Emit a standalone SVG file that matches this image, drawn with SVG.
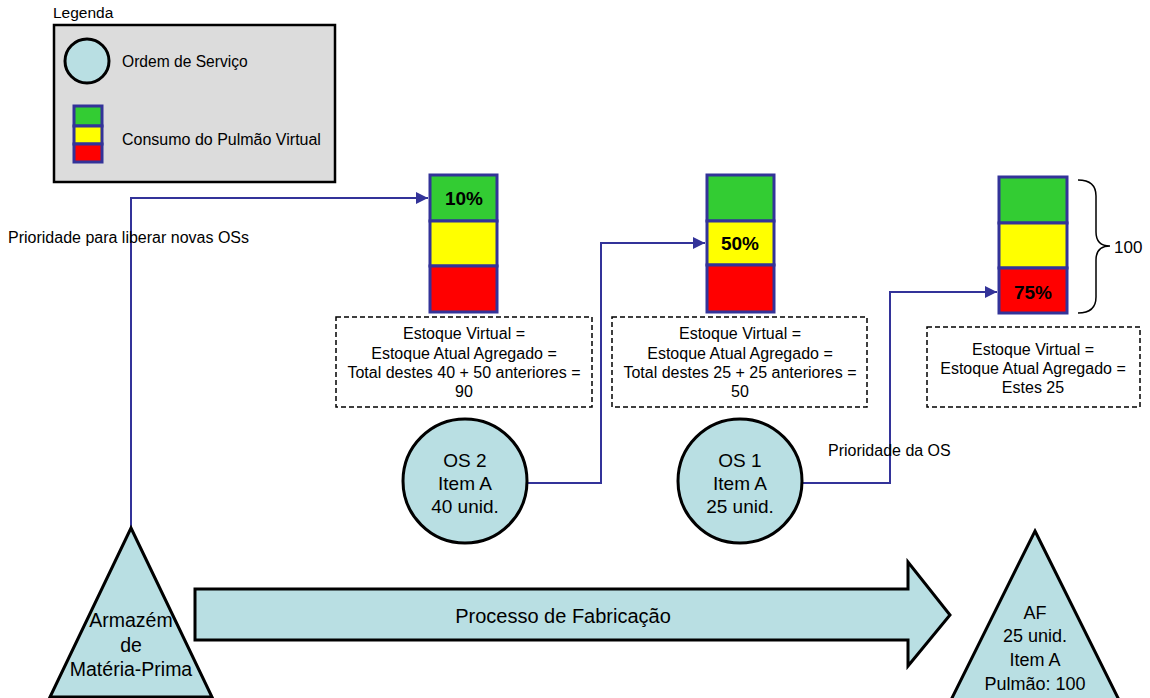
<svg xmlns="http://www.w3.org/2000/svg" width="1150" height="698" viewBox="0 0 1150 698">
<defs>
<style>
text{font-family:"Liberation Sans",Arial,sans-serif;fill:#000}
.s{font-size:16px}
.m{font-size:19px}
.c{text-anchor:middle}
.b{font-weight:bold;font-size:19px;text-anchor:middle}
.g{fill:#33cc33;stroke:#333399;stroke-width:3}
.y{fill:#ffff00;stroke:#333399;stroke-width:3}
.r{fill:#ff0000;stroke:#333399;stroke-width:3}
.os{fill:#b9dfe3;stroke:#000;stroke-width:3}
.dash{fill:#fff;stroke:#000;stroke-width:1.5;stroke-dasharray:5 3}
.con{fill:none;stroke:#333399;stroke-width:2}
</style>
<marker id="ah" viewBox="0 0 10 10" refX="10" refY="5" markerWidth="12" markerHeight="12" markerUnits="userSpaceOnUse" orient="auto">
<path d="M0,0 L10,5 L0,10 z" fill="#333399"/>
</marker>
</defs>
<rect width="1150" height="698" fill="#fff"/>

<g id="legend">
<text class="s" x="53" y="18" style="font-size:15.5px">Legenda</text>
<rect x="54" y="25" width="281" height="157" fill="#dcdcdc" stroke="#000" stroke-width="2.5"/>
<circle class="os" cx="87" cy="61" r="22"/>
<text class="s" x="122" y="67" style="font-size:15.6px">Ordem de Serviço</text>
<rect class="g" x="74" y="106" width="28" height="20" stroke-width="2"/>
<rect class="y" x="74" y="126" width="28" height="18" stroke-width="2"/>
<rect class="r" x="74" y="144" width="28" height="18" stroke-width="2"/>
<text class="s" x="122" y="145">Consumo do Pulmão Virtual</text>
</g>

<g id="connectors">
<polyline class="con" points="131,528 131,198 428,198" marker-end="url(#ah)"/>
<polyline class="con" points="527,483 601,483 601,243 705,243" marker-end="url(#ah)"/>
<polyline class="con" points="802,483 890,483 890,292 997,292" marker-end="url(#ah)"/>
</g>
<text class="s" x="8" y="243">Prioridade para liberar novas OSs</text>
<text class="s" x="828" y="456">Prioridade da OS</text>

<g id="bar1">
<rect class="g" x="430" y="175" width="67" height="46"/>
<rect class="y" x="430" y="221" width="67" height="45"/>
<rect class="r" x="430" y="266" width="67" height="46"/>
<text class="b" x="464" y="205">10%</text>
</g>
<g id="bar2">
<rect class="g" x="707" y="175" width="67" height="46"/>
<rect class="y" x="707" y="221" width="67" height="44"/>
<rect class="r" x="707" y="265" width="67" height="47"/>
<text class="b" x="740" y="250">50%</text>
</g>
<g id="bar3">
<rect class="g" x="999" y="177" width="68" height="46"/>
<rect class="y" x="999" y="223" width="68" height="45"/>
<rect class="r" x="999" y="268" width="68" height="45"/>
<text class="b" x="1033" y="299">75%</text>
</g>
<g id="brace">
<path d="M1078,180 Q1096,180 1096,196 L1096,232 Q1096,246 1110,246 Q1096,246 1096,260 L1096,297 Q1096,313 1078,313" fill="none" stroke="#000" stroke-width="1.5"/>
<text x="1114" y="253" style="font-size:17px">100</text>
</g>

<g id="box1">
<rect class="dash" x="336" y="317" width="256" height="90"/>
<text class="s c" x="464" y="339">Estoque Virtual =</text>
<text class="s c" x="464" y="359">Estoque Atual Agregado =</text>
<text class="s c" x="464" y="378">Total destes 40 + 50 anteriores =</text>
<text class="s c" x="464" y="397">90</text>
</g>
<g id="box2">
<rect class="dash" x="612" y="317" width="255" height="90"/>
<text class="s c" x="740" y="339">Estoque Virtual =</text>
<text class="s c" x="740" y="359">Estoque Atual Agregado =</text>
<text class="s c" x="740" y="378">Total destes 25 + 25 anteriores =</text>
<text class="s c" x="740" y="397">50</text>
</g>
<g id="box3">
<rect class="dash" x="927" y="327" width="213" height="80"/>
<text class="s c" x="1033" y="355">Estoque Virtual =</text>
<text class="s c" x="1033" y="374">Estoque Atual Agregado =</text>
<text class="s c" x="1033" y="393">Estes 25</text>
</g>

<g id="os2">
<circle class="os" cx="465" cy="481" r="62"/>
<text class="m c" x="465" y="467">OS 2</text>
<text class="m c" x="465" y="490">Item A</text>
<text class="m c" x="465" y="513">40 unid.</text>
</g>
<g id="os1">
<circle class="os" cx="740" cy="481" r="62"/>
<text class="m c" x="740" y="467">OS 1</text>
<text class="m c" x="740" y="490">Item A</text>
<text class="m c" x="740" y="513">25 unid.</text>
</g>

<g id="armazem">
<polygon points="131,528 212,697 50,697" fill="#b9dfe3" stroke="#000" stroke-width="3"/>
<text class="m c" x="131" y="627" style="font-size:19.5px">Armazém</text>
<text class="m c" x="131" y="652" style="font-size:19.5px">de</text>
<text class="m c" x="131" y="676" style="font-size:19.5px">Matéria-Prima</text>
</g>

<g id="processo">
<polygon points="195,589 908,589 908,562 950,615 908,666 908,640 195,640" fill="#b9dfe3" stroke="#000" stroke-width="3"/>
<text class="c" x="563" y="623" style="font-size:20px">Processo de Fabricação</text>
</g>

<g id="af">
<polygon points="1035,531 1120,702 950,702" fill="#b9dfe3" stroke="#000" stroke-width="3"/>
<text class="c" x="1035" y="619" style="font-size:18px">AF</text>
<text class="c" x="1035" y="642" style="font-size:18px">25 unid.</text>
<text class="c" x="1035" y="666" style="font-size:18px">Item A</text>
<text class="c" x="1035" y="690" style="font-size:18px">Pulmão: 100</text>
</g>
</svg>
